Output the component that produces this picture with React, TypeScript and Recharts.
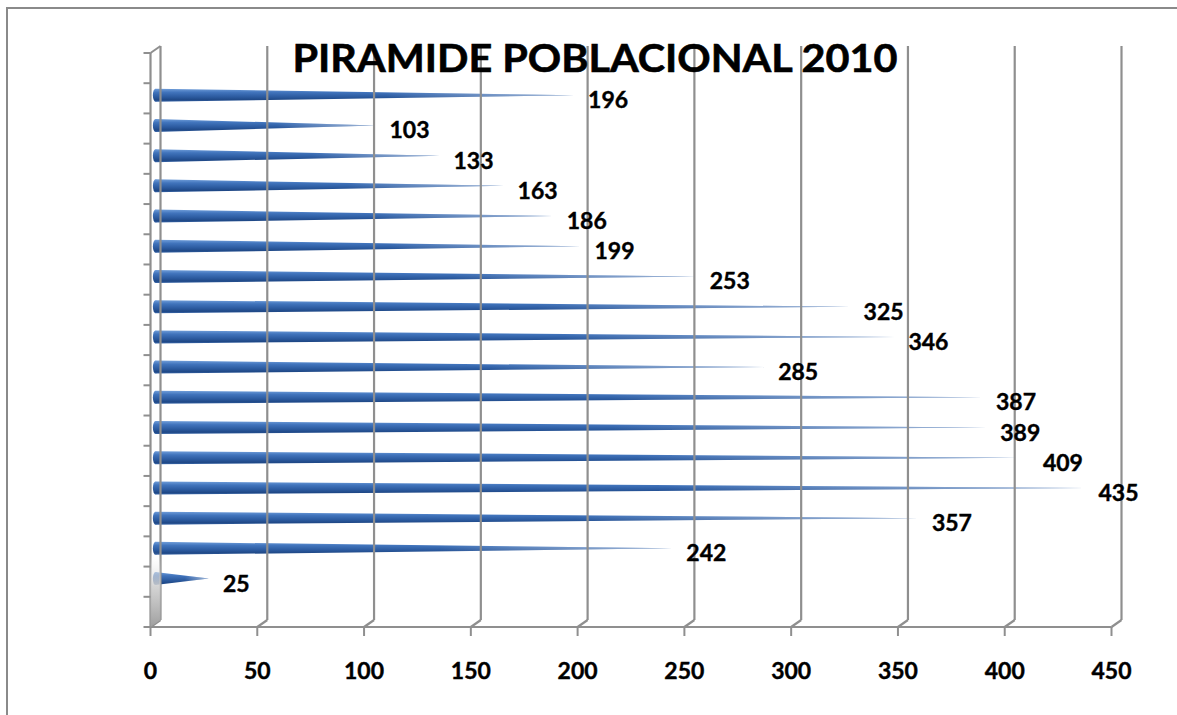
import React from 'react';
import { BarChart, Bar, XAxis, YAxis, LabelList } from 'recharts';

// ---- data ----
const title = 'PIRAMIDE POBLACIONAL 2010';
const ageGroups = [
  '75+', '70-74', '65-69', '60-64', '55-59', '50-54', '45-49', '40-44', '35-39',
  '30-34', '25-29', '20-24', '15-19', '10-14', '5-9', '1-4', '<1',
];
const population = [196, 103, 133, 163, 186, 199, 253, 325, 346, 285, 387, 389, 409, 435, 357, 242, 25];
const xTicks = [0, 50, 100, 150, 200, 250, 300, 350, 400, 450];

const data = [
  { cat: 'pad-top', value: null as number | null },
  ...ageGroups.map((c, i) => ({ cat: c, value: population[i] as number | null })),
  { cat: 'pad-bottom', value: null as number | null },
];

// ---- layout ----
const W = 1177;
const H = 715;
const PL = 155.5; // mid-depth plane
const PR = 1116.5;
const PT = 49.5;
const PB = 623.5;
const DX = 5; // half depth offset
const DY = 3.5;
const XAXIS_H = 60;
const YAXIS_W = 40;
const BAND = (PB - PT) / data.length;
const GRID = '#8f8f8f';
const FONT = 'Lato, "Open Sans", "DejaVu Sans", sans-serif';

const XTick = (p: any) => {
  const x = p.x;
  const v = p.payload?.value;
  return (
    <g>
      <line x1={x + DX} y1={PT - DY} x2={x + DX} y2={PB - DY} stroke={GRID} strokeWidth={2.2} />
      <line x1={x - DX} y1={PB + DY} x2={x + DX} y2={PB - DY} stroke={GRID} strokeWidth={2.2} />
      <line x1={x - DX} y1={PB + DY} x2={x - DX} y2={PB + DY + 9} stroke={GRID} strokeWidth={2} />
      <text
        x={x - DX}
        y={PB + DY + 52}
        textAnchor="middle"
        fontFamily={FONT}
        fontWeight={700}
        fontSize={23}
        fill="#000"
        stroke="#000"
        strokeWidth={0.4}
      >
        {v}
      </text>
    </g>
  );
};

const YTick = (p: any) => {
  const y = p.y;
  const idx = p.index;
  const last = idx === data.length - 1;
  const fx = PL - DX;
  return (
    <g>
      {idx === 0 && (
        <g>
          <defs>
            <linearGradient id="wallGrad" x1="0" y1="0" x2="0" y2="1">
              <stop offset="0" stopColor="#ffffff" stopOpacity="0" />
              <stop offset="0.87" stopColor="#ffffff" stopOpacity="0" />
              <stop offset="0.93" stopColor="#cfcfcf" stopOpacity="0.9" />
              <stop offset="1" stopColor="#a0a0a0" stopOpacity="1" />
            </linearGradient>
          </defs>
          <polygon
            points={`${fx},${PT + DY} ${PL + DX},${PT - DY} ${PL + DX},${PB - DY} ${fx},${PB + DY}`}
            fill="url(#wallGrad)"
          />
          <line x1={fx} y1={PT + DY} x2={PL + DX} y2={PT - DY} stroke={GRID} strokeWidth={2} />
        </g>
      )}
      <line x1={fx - 7} y1={y - BAND / 2 + DY} x2={fx} y2={y - BAND / 2 + DY} stroke={GRID} strokeWidth={2} />
      {last && (
        <line x1={fx - 7} y1={y + BAND / 2 + DY} x2={fx} y2={y + BAND / 2 + DY} stroke={GRID} strokeWidth={2} />
      )}
    </g>
  );
};

const Cone = (props: any) => {
  const { x, y, width, height, index } = props;
  if (!width || width <= 0 || !height) return null;
  const id = `coneGrad${index}`;
  const fid = `coneFade${index}`;
  const cy = y + height / 2;
  const d = `M${x},${y} L${x + width},${cy} L${x},${y + height} Z`;
  return (
    <g>
      <defs>
        <linearGradient id={id} x1="0" y1="0" x2="0" y2="1">
          <stop offset="0" stopColor="#6f9dd9" />
          <stop offset="0.28" stopColor="#4174bc" />
          <stop offset="0.62" stopColor="#2c5ba0" />
          <stop offset="0.86" stopColor="#1f4886" />
          <stop offset="1" stopColor="#3765a8" />
        </linearGradient>
        <linearGradient id={fid} x1="0" y1="0" x2="1" y2="0">
          <stop offset="0" stopColor="#ffffff" stopOpacity="0" />
          <stop offset="0.55" stopColor="#ffffff" stopOpacity="0" />
          <stop offset="1" stopColor="#ffffff" stopOpacity="0.55" />
        </linearGradient>
      </defs>
      <path d={d} fill={`url(#${id})`} />
      <ellipse cx={x} cy={cy} rx={2.6} ry={height / 2} fill={`url(#${id})`} />
      <path d={d} fill={`url(#${fid})`} />
    </g>
  );
};

const renderLabel = (p: any) => {
  const vb = p.viewBox || {};
  const x = p.x ?? vb.x;
  const y = p.y ?? vb.y;
  const width = p.width ?? vb.width;
  const height = p.height ?? vb.height;
  const value = p.value;
  if (value == null || x == null) return null;
  return (
    <text
      x={x + width + 14}
      y={y + height / 2 + 4}
      dominantBaseline="central"
      fontFamily={FONT}
      fontWeight={700}
      fontSize={23}
      fill="#000"
      stroke="#000"
      strokeWidth={0.4}
    >
      {value}
    </text>
  );
};

export default function App() {
  return (
    <div style={{ position: 'absolute', left: 0, top: 0, width: W, height: H, background: '#fff', overflow: 'hidden' }}>
      <div
        style={{
          position: 'absolute',
          left: 6,
          top: 7,
          width: W - 20,
          height: H - 20,
          borderLeft: '2px solid #8a8a8a',
          borderTop: '2px solid #8a8a8a',
          boxSizing: 'border-box',
        }}
      />
      <div
        style={{
          position: 'absolute',
          left: W - 20,
          top: 7,
          width: 20,
          height: 2,
          background: '#8a8a8a',
        }}
      />
      <div
        style={{
          position: 'absolute',
          left: 6,
          top: H - 20,
          width: 2,
          height: 20,
          background: '#8a8a8a',
        }}
      />
      <div style={{ position: 'absolute', left: 0, top: 0 }}>
        <BarChart
          width={W}
          height={H}
          data={data}
          layout="vertical"
          margin={{ top: PT, right: W - PR, bottom: H - PB - XAXIS_H, left: PL - YAXIS_W }}
        >
          <XAxis
            type="number"
            domain={[0, 450]}
            ticks={xTicks}
            interval={0}
            height={XAXIS_H}
            tickLine={false}
            axisLine={{ stroke: GRID, strokeWidth: 2.2, transform: `translate(${-DX},${DY})` } as any}
            tick={(p: any) => <XTick {...p} />}
          />
          <YAxis
            type="category"
            dataKey="cat"
            width={YAXIS_W}
            interval={0}
            tickLine={false}
            axisLine={{ stroke: GRID, strokeWidth: 2.2, transform: `translate(${-DX},${DY})` } as any}
            tick={(p: any) => <YTick {...p} />}
          />
          <Bar dataKey="value" barSize={13} shape={Cone} isAnimationActive={false}>
            <LabelList dataKey="value" content={renderLabel} />
          </Bar>
        </BarChart>
      </div>
      <svg width={W} height={H} style={{ position: 'absolute', left: 0, top: 0, pointerEvents: 'none' }}>
        <text
          x={595}
          y={72}
          textAnchor="middle"
          fontFamily={FONT}
          fontWeight={700}
          fontSize={38}
          fill="#000"
          stroke="#000"
          strokeWidth={0.6}
          textLength={605}
          lengthAdjust="spacingAndGlyphs"
        >
          {title}
        </text>
      </svg>
    </div>
  );
}
